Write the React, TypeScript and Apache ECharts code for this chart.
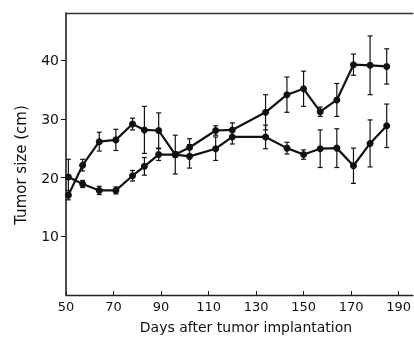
import React, { useEffect, useRef } from "react";
import * as echarts from "echarts";

const days = [51, 57, 64, 71, 78, 83, 89, 96, 102, 113, 120, 134, 143, 150, 157, 164, 171, 178, 185];
const sizeA = [17.0, 22.1, 26.1, 26.4, 29.1, 28.1, 28.0, 23.9, 25.1, 28.0, 28.1, 31.1, 34.1, 35.1, 31.2, 33.2, 39.2, 39.1, 38.9];
const errA = [0.8, 1.0, 1.6, 1.8, 1.0, 4.0, 3.0, 3.3, 1.5, 0.8, 1.2, 3.0, 3.0, 3.0, 0.8, 2.8, 1.8, 5.0, 3.0];
const sizeB = [20.1, 18.9, 17.8, 17.8, 20.3, 21.9, 23.9, 23.9, 23.6, 24.9, 26.9, 26.9, 25.0, 23.9, 24.9, 25.0, 22.0, 25.8, 28.8];
const errB = [3.0, 0.6, 0.7, 0.6, 0.9, 1.5, 1.0, 0.5, 2.0, 2.0, 1.2, 2.0, 1.0, 0.8, 3.2, 3.3, 3.0, 4.0, 3.7];
const xTicks = [50, 70, 90, 110, 130, 150, 170, 190];
const yTicks = [10, 20, 30, 40];

const INK = "#111";
const FONT = "DejaVu Sans";

export default function App() {
  const ref = useRef<HTMLDivElement>(null);
  useEffect(() => {
    const chart = echarts.init(ref.current!, null, { renderer: "svg" });
    const errItem = (params: any, api: any) => {
      const x = api.value(0);
      const lo = api.value(1);
      const hi = api.value(2);
      const pHi = api.coord([x, hi]);
      const pLo = api.coord([x, lo]);
      const w = 2.5;
      const st = { stroke: INK, lineWidth: 1.2 };
      return {
        type: "group",
        children: [
          { type: "line", shape: { x1: pHi[0], y1: pHi[1], x2: pLo[0], y2: pLo[1] }, style: st },
          { type: "line", shape: { x1: pHi[0] - w, y1: pHi[1], x2: pHi[0] + w, y2: pHi[1] }, style: st },
          { type: "line", shape: { x1: pLo[0] - w, y1: pLo[1], x2: pLo[0] + w, y2: pLo[1] }, style: st },
        ],
      };
    };
    const errData = (vals: number[], errs: number[]) =>
      days.map((d, i) => [d, vals[i] - errs[i], vals[i] + errs[i]]);
    const lineSeries = (vals: number[]) => ({
      type: "line",
      data: days.map((d, i) => [d, vals[i]]),
      symbol: "circle",
      symbolSize: 7,
      lineStyle: { color: INK, width: 2.2 },
      itemStyle: { color: INK },
      z: 3,
    });
    chart.setOption({
      animation: false,
      grid: { left: 66, right: 0, top: 13, bottom: 48 },
      xAxis: [
        {
          type: "value",
          min: 50,
          max: 196,
          axisLine: { show: true, lineStyle: { color: "#222", width: 1.4 } },
          axisTick: { show: true, inside: true, length: 4, customValues: xTicks, lineStyle: { color: "#222" } },
          axisLabel: {
            customValues: xTicks,
            margin: 5,
            color: INK,
            fontFamily: FONT,
            fontSize: 13,
          },
          splitLine: { show: false },
        },
        {
          type: "value",
          position: "top",
          min: 50,
          max: 196,
          axisLine: { show: true, lineStyle: { color: "#333", width: 1.3 } },
          axisTick: { show: false },
          axisLabel: { show: false },
          splitLine: { show: false },
        },
      ],
      yAxis: {
        type: "value",
        min: 0,
        max: 48,
        axisLine: { show: true, lineStyle: { color: INK, width: 1.5 } },
        axisTick: { show: true, inside: false, length: 5, customValues: yTicks, lineStyle: { color: INK } },
        axisLabel: {
          customValues: yTicks,
          margin: 7,
          color: INK,
          fontFamily: FONT,
          fontSize: 14,
        },
        splitLine: { show: false },
      },
      graphic: [
        {
          type: "text",
          x: 246,
          y: 327,
          style: {
            text: "Days after tumor implantation",
            font: `14px "${FONT}"`,
            fill: INK,
            align: "center",
            verticalAlign: "middle",
          },
        },
        {
          type: "text",
          x: 21,
          y: 165,
          rotation: Math.PI / 2,
          style: {
            text: "Tumor size (cm)",
            font: `15px "${FONT}"`,
            fill: INK,
            align: "center",
            verticalAlign: "middle",
          },
        },
      ],
      series: [
        { type: "custom", renderItem: errItem, data: errData(sizeA, errA), z: 2 },
        { type: "custom", renderItem: errItem, data: errData(sizeB, errB), z: 2 },
        lineSeries(sizeA),
        lineSeries(sizeB),
      ],
    });
    return () => chart.dispose();
  }, []);
  return <div ref={ref} style={{ position: "fixed", left: 0, top: 0, width: 414, height: 343 }} />;
}
